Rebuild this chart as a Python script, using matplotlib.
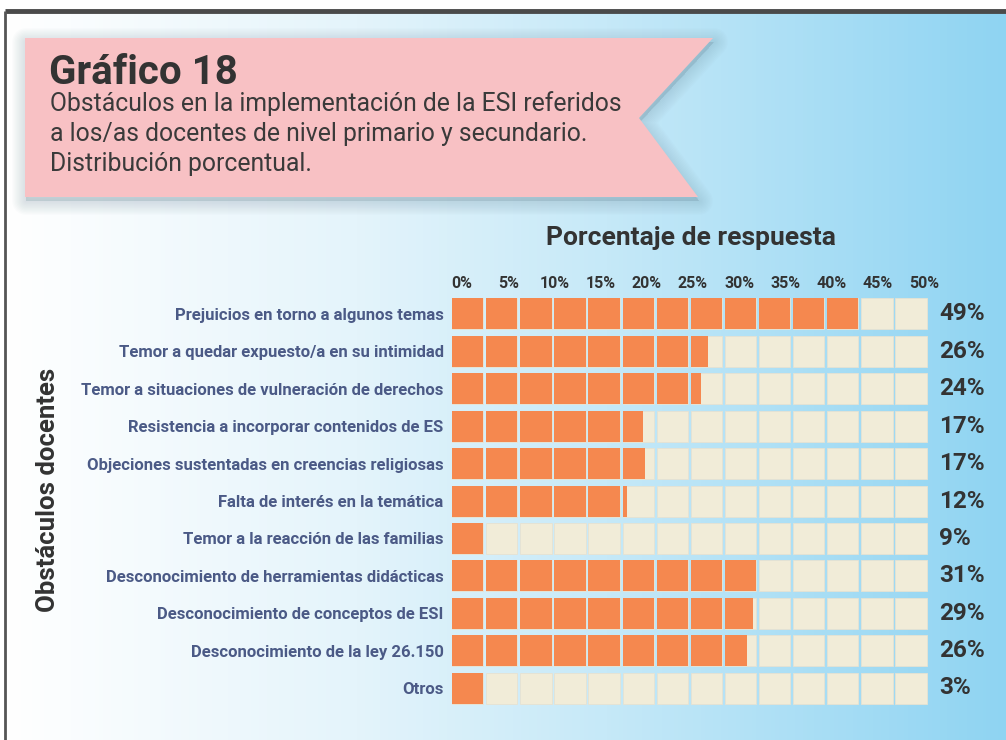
import numpy as np
import matplotlib.pyplot as plt
from matplotlib.patches import Polygon, Rectangle
from matplotlib.colors import LinearSegmentedColormap

plt.rcParams['font.family'] = ['Roboto', 'DejaVu Sans']

# data
categories = [
    "Prejuicios en torno a algunos temas",
    "Temor a quedar expuesto/a en su intimidad",
    "Temor a situaciones de vulneración de derechos",
    "Resistencia a incorporar contenidos de ES",
    "Objeciones sustentadas en creencias religiosas",
    "Falta de interés en la temática",
    "Temor a la reacción de las familias",
    "Desconocimiento de herramientas didácticas",
    "Desconocimiento de conceptos de ESI",
    "Desconocimiento de la ley 26.150",
    "Otros",
]
printed_pct = [49, 26, 24, 17, 17, 12, 9, 31, 29, 26, 3]
# bar lengths as drawn in the original graphic (in % of the top axis)
drawn_pct = [43.1, 26.6, 25.9, 19.6, 19.8, 17.9, 2.4, 31.9, 31.5, 30.8, 2.5]
tick_values = [0, 5, 10, 15, 20, 25, 30, 35, 40, 45, 50]

W, H = 1006, 740
fig = plt.figure(figsize=(W / 100, H / 100), dpi=100)

# background layer in pixel coordinates
bg = fig.add_axes([0, 0, 1, 1])
bg.set_xlim(0, W)
bg.set_ylim(H, 0)
bg.axis("off")

grad = LinearSegmentedColormap.from_list(
    "bg", [(0, "#ffffff"), (0.35, "#e4f4fb"), (0.6, "#c6e9f8"), (1, "#8fd4f2")])
bg.imshow(np.linspace(0, 1, 256)[None, :], cmap=grad, aspect="auto",
          extent=(5, W, H, 12), zorder=0)
bg.plot([5, W], [11, 11], color="#4a4a4a", lw=3.5, zorder=5, solid_capstyle="butt")
bg.plot([5, 5], [11, H], color="#555555", lw=2, zorder=5, solid_capstyle="butt")

# title banner with soft shadow
banner = [(25, 38), (713, 38), (639, 118), (698, 197), (25, 197)]
for k in range(10, 0, -1):
    sh = [(x + 1, y + 4) for x, y in banner]
    bg.add_patch(Polygon(sh, closed=True, facecolor="#6d8c9c", alpha=0.022,
                         edgecolor="#6d8c9c", lw=k * 2.0, joinstyle="round", zorder=1))
bg.add_patch(Polygon(banner, closed=True, facecolor="#f8c1c4", edgecolor="none", zorder=2))

bg.text(49, 84, "Gráfico 18", fontsize=29, fontweight="bold", color="#333333",
        ha="left", va="baseline", zorder=3)
subtitle = ["Obstáculos en la implementación de la ESI referidos",
            "a los/as docentes de nivel primario y secundario.",
            "Distribución porcentual."]
for i, line in enumerate(subtitle):
    bg.text(50, 111 + 30 * i, line, fontsize=17.8, color="#3a3a3a",
            ha="left", va="baseline", zorder=3)

bg.text(691, 238, "Porcentaje de respuesta", fontsize=19, fontweight="bold",
        color="#333333", ha="center", va="center")
bg.text(48, 490, "Obstáculos docentes", fontsize=18.5, fontweight="bold",
        color="#333333", ha="center", va="center", rotation=90)

# chart area: 0% at px 462, 50% at px 924
px_per_pct = (924 - 462) / 50.0
left_px, right_px = 452, 930
row0, pitch = 314, 37.4
top_px, bot_px = row0 - pitch / 2, row0 + pitch * 10.5
ax = fig.add_axes([left_px / W, 1 - bot_px / H, (right_px - left_px) / W, (bot_px - top_px) / H])
ax.set_xlim((left_px - 462) / px_per_pct, (right_px - 462) / px_per_pct)
ax.set_ylim(len(categories) - 0.5, -0.5)
ax.patch.set_alpha(0)
for s in ax.spines.values():
    s.set_visible(False)

cell_w = 31.3 / px_per_pct
cell_step = 34.1 / px_per_pct
cell_x0 = (452 - 462) / px_per_pct
bar_h = 31 / pitch
n_cells = 14

for i, val in enumerate(drawn_pct):
    for k in range(n_cells):
        x0 = cell_x0 + k * cell_step
        ax.add_patch(Rectangle((x0, i - bar_h / 2), cell_w, bar_h,
                               facecolor="#f1ecd8", edgecolor="#e6e2d2", lw=0.6))
        fill = min(cell_w, val - x0)
        if fill > 0:
            ax.add_patch(Rectangle((x0, i - bar_h / 2), fill, bar_h,
                                   facecolor="#f5884f", edgecolor="none"))
    ax.text((939 - 462) / px_per_pct, i, f"{printed_pct[i]}%", fontsize=17.5,
            fontweight="bold", color="#333333", ha="left", va="center", clip_on=False)

ax.xaxis.tick_top()
ax.set_xticks(tick_values)
ax.set_xticklabels([f"{t}%" for t in tick_values], fontsize=11.5, fontweight="bold", color="#333333")
ax.tick_params(axis="x", length=0, pad=3)
ax.set_yticks(range(len(categories)))
ax.set_yticklabels(categories, fontsize=12, fontweight="bold", color="#4b5a86")
ax.tick_params(axis="y", length=0, pad=6)

fig.savefig("out.png", dpi=100)
